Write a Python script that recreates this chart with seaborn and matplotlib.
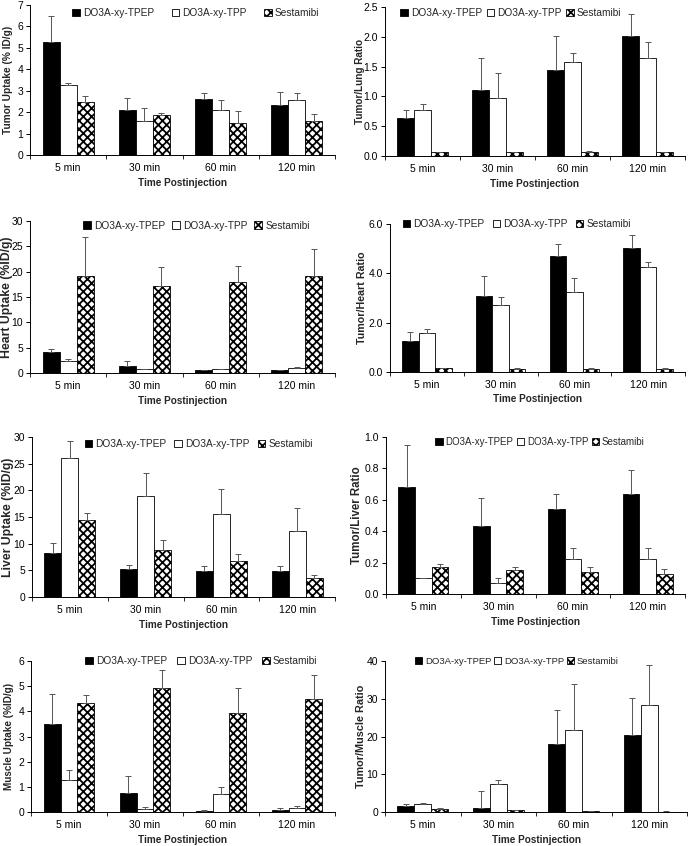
import matplotlib
matplotlib.use("Agg")
import matplotlib.pyplot as plt
import numpy as np
import pandas as pd
import seaborn as sns

TIMES = ["5 min", "30 min", "60 min", "120 min"]
SERIES = ["DO3A-xy-TPEP", "DO3A-xy-TPP", "Sestamibi"]
COLORS = ["black", "white", "white"]

# rows: TPEP, TPP, Sestamibi ; columns: 5, 30, 60, 120 min
tumor_uptake = [[5.25, 2.10, 2.60, 2.35], [3.25, 1.60, 2.10, 2.55], [2.48, 1.85, 1.48, 1.58]]
tumor_uptake_sd = [[1.25, 0.55, 0.28, 0.57], [0.10, 0.57, 0.45, 0.33], [0.25, 0.12, 0.55, 0.33]]

tumor_lung = [[0.63, 1.11, 1.45, 2.01], [0.78, 0.97, 1.58, 1.65], [0.07, 0.07, 0.06, 0.06]]
tumor_lung_sd = [[0.15, 0.53, 0.56, 0.37], [0.09, 0.42, 0.14, 0.27], [0.0, 0.0, 0.03, 0.01]]

heart_uptake = [[4.2, 1.4, 0.5, 0.5], [2.4, 0.7, 0.8, 1.0], [19.2, 17.2, 17.9, 19.2]]
heart_uptake_sd = [[0.6, 1.0, 0.1, 0.1], [0.4, 0.1, 0.05, 0.2], [7.6, 3.8, 3.3, 5.2]]

tumor_heart = [[1.27, 3.07, 4.72, 5.02], [1.57, 2.73, 3.26, 4.26], [0.17, 0.13, 0.14, 0.13]]
tumor_heart_sd = [[0.35, 0.82, 0.46, 0.53], [0.18, 0.30, 0.55, 0.20], [0.01, 0.03, 0.02, 0.03]]

liver_uptake = [[8.2, 5.2, 4.9, 4.9], [26.1, 18.9, 15.6, 12.4], [14.5, 8.9, 6.7, 3.6]]
liver_uptake_sd = [[1.9, 0.8, 0.9, 0.9], [3.2, 4.4, 4.7, 4.3], [1.3, 1.8, 1.4, 0.5]]

tumor_liver = [[0.68, 0.43, 0.54, 0.64], [0.10, 0.07, 0.22, 0.22], [0.17, 0.15, 0.14, 0.13]]
tumor_liver_sd = [[0.27, 0.18, 0.10, 0.15], [0.005, 0.03, 0.07, 0.07], [0.02, 0.02, 0.03, 0.03]]

muscle_uptake = [[3.50, 0.77, 0.03, 0.08], [1.27, 0.12, 0.72, 0.14], [4.32, 4.93, 3.93, 4.48]]
muscle_uptake_sd = [[1.20, 0.65, 0.05, 0.07], [0.40, 0.07, 0.29, 0.09], [0.33, 0.72, 1.00, 0.97]]

tumor_muscle = [[1.6, 1.1, 18.0, 20.5], [2.0, 7.4, 21.6, 28.4], [0.7, 0.4, 0.2, 0.1]]
tumor_muscle_sd = [[0.5, 4.4, 9.1, 9.7], [0.3, 1.1, 12.3, 10.5], [0.4, 0.1, 0.1, 0.05]]

W, H = 693, 846

sns.set_theme(style="white")
plt.rcParams["font.family"] = ["Liberation Sans", "DejaVu Sans"]
plt.rcParams["hatch.linewidth"] = 1.3
plt.rcParams["hatch.color"] = "black"

fig = plt.figure(figsize=(W / 100, H / 100), dpi=100)
renderer = fig.canvas.get_renderer()


def draw_panel(box, means, sds, ylabel, ymax, ystep, fmt, legend_opts, label_len, label_x):
    left, top, right, bottom = box
    leg_x, leg_y, colspace, leg_fs = legend_opts
    ax = fig.add_axes([left / W, 1 - bottom / H, (right - left) / W, (bottom - top) / H])
    rows = []
    for s, m in zip(SERIES, means):
        for t, v in zip(TIMES, m):
            rows.append({"Time": t, "Series": s, "Value": v})
    df = pd.DataFrame(rows)
    sns.barplot(
        data=df, x="Time", y="Value", hue="Series", order=TIMES, hue_order=SERIES,
        palette=COLORS, width=0.67, saturation=1, edgecolor="black", linewidth=0.6,
        errorbar=None, ax=ax,
    )
    for cont, sd in zip(ax.containers, sds):
        xs = [b.get_x() + b.get_width() / 2 for b in cont]
        ys = [b.get_height() for b in cont]
        ax.errorbar(xs, ys, yerr=[np.zeros(len(sd)), sd], fmt="none", ecolor="#555555",
                    elinewidth=0.7, capsize=2, capthick=0.7, zorder=1)
    for b in ax.containers[2]:
        b.set_hatch("xxxx")

    if ax.get_legend() is not None:
        ax.get_legend().remove()
    ax.legend([c[0] for c in ax.containers], SERIES, ncol=3, frameon=False, loc="center",
              bbox_to_anchor=(leg_x, leg_y), fontsize=leg_fs, handlelength=0.75, handleheight=0.75,
              handletextpad=0.3, columnspacing=colspace, borderpad=0, borderaxespad=0)

    ax.set_xlim(-0.5, 3.5)
    ax.set_ylim(0, ymax)
    ticks = np.arange(0, ymax + ystep / 2, ystep)
    ax.set_yticks(ticks)
    ax.set_yticklabels([fmt.format(t) for t in ticks])
    ax.set_xticks(range(len(TIMES)))
    ax.set_xticklabels(TIMES)
    ax.set_xticks(np.arange(-0.5, len(TIMES), 1), minor=True)
    ax.tick_params(axis="x", which="major", length=0, pad=6, labelsize=7.5, colors="black")
    ax.tick_params(axis="x", which="minor", length=3, width=0.7, direction="out", bottom=True)
    ax.tick_params(axis="y", length=3, width=0.7, direction="out", left=True, pad=2,
                   labelsize=7.5, colors="black")
    for side in ["top", "right"]:
        ax.spines[side].set_visible(False)
    for side in ["left", "bottom"]:
        ax.spines[side].set_color("black")
        ax.spines[side].set_linewidth(0.7)

    # y labels were pasted at different sizes in the source figure, fit them to measured length
    lab = ax.set_ylabel(ylabel, fontsize=7.5, fontweight="bold")
    h = lab.get_window_extent(renderer).height
    lab.set_fontsize(min(7.5 * label_len / h, 8.8))
    ax.yaxis.set_label_coords((label_x - left) / (right - left), 0.5)
    ax.set_xlabel("Time Postinjection", fontsize=7.2, fontweight="bold", labelpad=3)
    return ax


draw_panel((30, 5, 335, 155), tumor_uptake, tumor_uptake_sd, "Tumor Uptake (% ID/g)",
           7, 1, "{:.0f}", (0.544, 0.947, 1.73, 7.3), 107, 13)
draw_panel((385, 7, 685, 156), tumor_lung, tumor_lung_sd, "Tumor/Lung Ratio",
           2.5, 0.5, "{:.1f}", (0.42, 0.96, 0.45, 7.3), 85, 365)
draw_panel((30, 221, 335, 373), heart_uptake, heart_uptake_sd, "Heart Uptake (%ID/g)",
           30, 5, "{:.0f}", (0.546, 0.97, 0.7, 7.3), 143, 13)
draw_panel((390, 224, 685, 372), tumor_heart, tumor_heart_sd, "Tumor/Heart Ratio",
           6, 2, "{:.1f}", (0.43, 1.0, 0.8, 7.3), 92, 367)
draw_panel((32, 437, 335, 597), liver_uptake, liver_uptake_sd, "Liver Uptake (%ID/g)",
           30, 5, "{:.0f}", (0.55, 0.956, 0.8, 7.3), 128, 14)
draw_panel((386, 437, 685, 594), tumor_liver, tumor_liver_sd, "Tumor/Liver Ratio",
           1.0, 0.2, "{:.1f}", (0.515, 0.968, 0.35, 7.0), 98, 363)
draw_panel((31, 661, 335, 812), muscle_uptake, muscle_uptake_sd, "Muscle Uptake (%ID/g)",
           6, 1, "{:.0f}", (0.56, 1.0, 1.0, 7.3), 107, 14)
draw_panel((385, 661, 687, 812), tumor_muscle, tumor_muscle_sd, "Tumor/Muscle Ratio",
           40, 10, "{:.0f}", (0.437, 1.0, 0.3, 6.8), 103, 366)

fig.savefig("out.png", dpi=100, facecolor="white")
